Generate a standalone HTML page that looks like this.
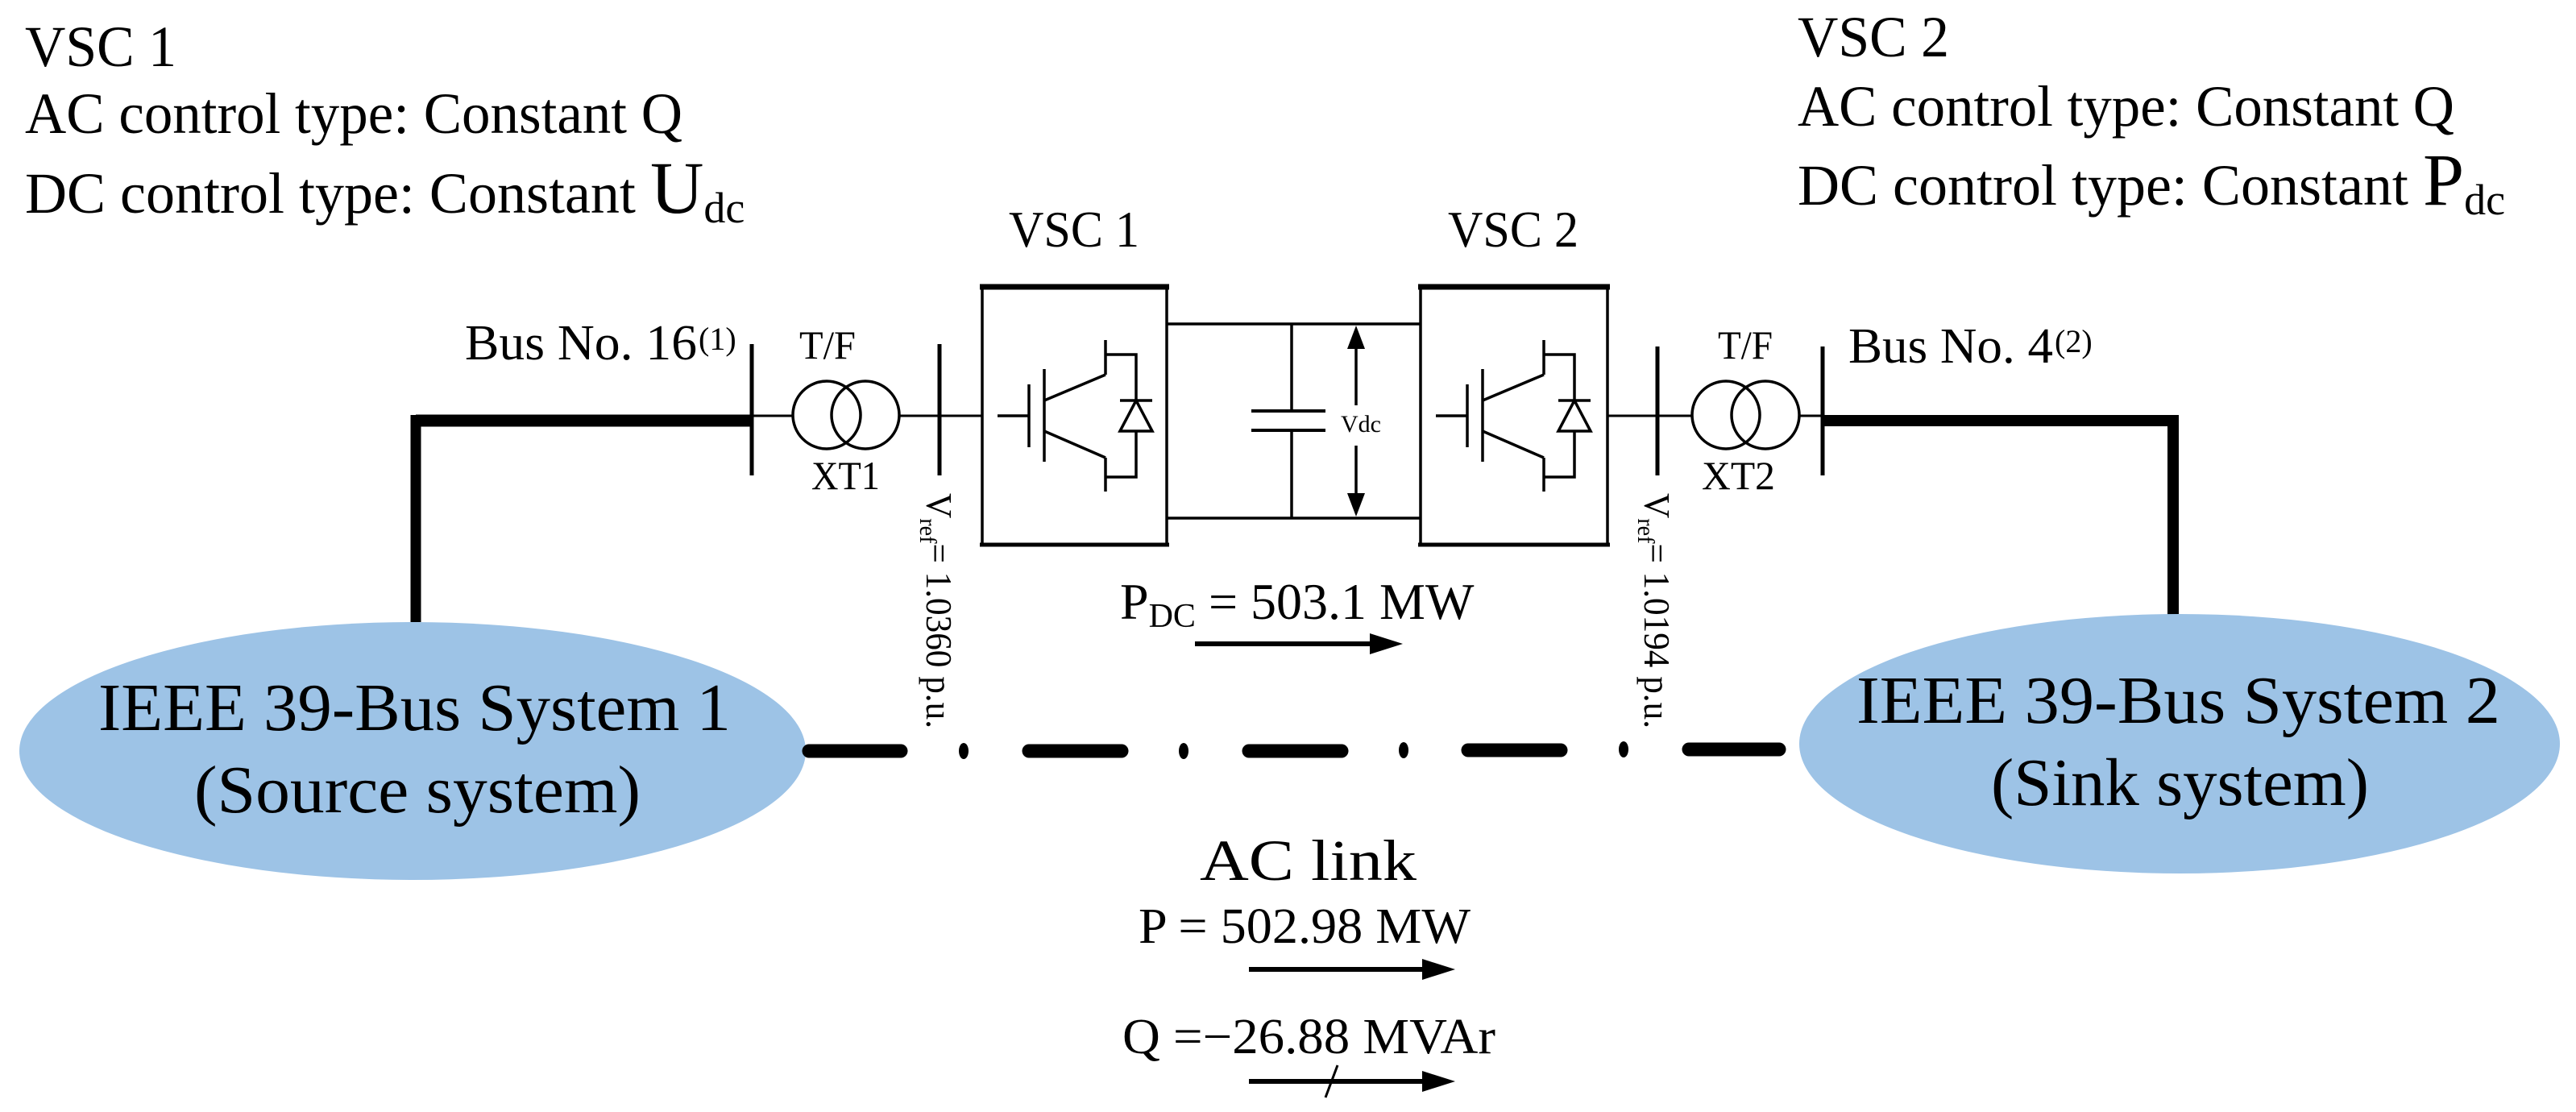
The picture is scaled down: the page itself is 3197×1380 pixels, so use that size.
<!DOCTYPE html>
<html><head><meta charset="utf-8"><style>
html,body{margin:0;padding:0;background:#fff;}
svg{display:block;}
text{font-family:"Liberation Serif","Times New Roman",serif;fill:#000;}
</style></head><body>
<svg width="3197" height="1380" viewBox="0 0 3197 1380" xmlns="http://www.w3.org/2000/svg" font-family="Liberation Serif, Times New Roman, serif">
<rect width="3197" height="1380" fill="#fff"/>
<!-- top-left text -->
<text x="31" y="82" font-size="72" textLength="188" lengthAdjust="spacingAndGlyphs">VSC 1</text>
<text x="31" y="165" font-size="72" textLength="816" lengthAdjust="spacingAndGlyphs">AC control type: Constant Q</text>
<text x="31" y="264" font-size="72">DC control type: Constant <tspan font-size="92">U</tspan><tspan font-size="54" dy="12">dc</tspan></text>
<!-- top-right text -->
<text x="2231" y="70" font-size="72" textLength="188" lengthAdjust="spacingAndGlyphs">VSC 2</text>
<text x="2231" y="156" font-size="72" textLength="815" lengthAdjust="spacingAndGlyphs">AC control type: Constant Q</text>
<text x="2231" y="254" font-size="72">DC control type: Constant <tspan font-size="92">P</tspan><tspan font-size="54" dy="12">dc</tspan></text>

<!-- VSC labels -->
<text x="1252" y="306" font-size="64" textLength="162" lengthAdjust="spacingAndGlyphs">VSC 1</text>
<text x="1797" y="306" font-size="64" textLength="162" lengthAdjust="spacingAndGlyphs">VSC 2</text>

<!-- Left AC side -->
<text x="577" y="446" font-size="62" textLength="288" lengthAdjust="spacingAndGlyphs">Bus No. 16</text>
<text x="867" y="434" font-size="40">(1)</text>
<text x="992" y="445" font-size="50" textLength="70" lengthAdjust="spacingAndGlyphs">T/F</text>
<text x="1007" y="607" font-size="50" textLength="85" lengthAdjust="spacingAndGlyphs">XT1</text>
<path d="M516 522 H933" stroke="#000" stroke-width="15" fill="none"/>
<path d="M516 515 V772" stroke="#000" stroke-width="13" fill="none"/>
<line x1="933" y1="427" x2="933" y2="590" stroke="#000" stroke-width="5"/>
<line x1="933" y1="516" x2="984" y2="516" stroke="#000" stroke-width="3"/>
<circle cx="1026" cy="515" r="42" fill="none" stroke="#000" stroke-width="3.5"/>
<circle cx="1074" cy="515" r="42" fill="none" stroke="#000" stroke-width="3.5"/>
<line x1="1116" y1="516" x2="1219" y2="516" stroke="#000" stroke-width="3"/>
<line x1="1166" y1="427" x2="1166" y2="590" stroke="#000" stroke-width="5"/>
<text transform="translate(1150,612) rotate(90)" font-size="46" textLength="292" lengthAdjust="spacingAndGlyphs">V<tspan font-size="30" dy="8">ref</tspan><tspan dy="-8">= 1.0360 p.u.</tspan></text>

<!-- Right AC side -->
<text x="2294" y="450" font-size="62" textLength="254" lengthAdjust="spacingAndGlyphs">Bus No. 4</text>
<text x="2550" y="437" font-size="40">(2)</text>
<text x="2132" y="445" font-size="50" textLength="68" lengthAdjust="spacingAndGlyphs">T/F</text>
<text x="2112" y="607" font-size="50" textLength="91" lengthAdjust="spacingAndGlyphs">XT2</text>
<line x1="1995" y1="516" x2="2100" y2="516" stroke="#000" stroke-width="3"/>
<line x1="2057" y1="430" x2="2057" y2="590" stroke="#000" stroke-width="5"/>
<circle cx="2142" cy="515" r="42" fill="none" stroke="#000" stroke-width="3.5"/>
<circle cx="2191" cy="515" r="42" fill="none" stroke="#000" stroke-width="3.5"/>
<line x1="2233" y1="516" x2="2262" y2="516" stroke="#000" stroke-width="3"/>
<line x1="2262" y1="430" x2="2262" y2="590" stroke="#000" stroke-width="5"/>
<path d="M2262 522 H2697 V763" stroke="#000" stroke-width="14" fill="none"/>
<text transform="translate(2041,612) rotate(90)" font-size="46" textLength="292" lengthAdjust="spacingAndGlyphs">V<tspan font-size="30" dy="8">ref</tspan><tspan dy="-8">= 1.0194 p.u.</tspan></text>

<!-- Converter boxes -->
<g stroke="#000" fill="none" stroke-width="3.5">
<rect x="1219" y="356" width="229" height="320"/>
<rect x="1763" y="356" width="232" height="320"/>
<line x1="1448" y1="402" x2="1763" y2="402"/>
<line x1="1448" y1="643" x2="1763" y2="643"/>
<line x1="1603" y1="402" x2="1603" y2="510"/>
<line x1="1603" y1="534" x2="1603" y2="643"/>
<line x1="1553" y1="510" x2="1645" y2="510" stroke-width="4"/>
<line x1="1553" y1="534" x2="1645" y2="534" stroke-width="4"/>
<line x1="1683" y1="425" x2="1683" y2="503"/>
<line x1="1683" y1="553" x2="1683" y2="620"/>
</g>
<line x1="1216" y1="356" x2="1451" y2="356" stroke="#000" stroke-width="7"/>
<line x1="1760" y1="356" x2="1998" y2="356" stroke="#000" stroke-width="7"/>
<line x1="1216" y1="676" x2="1451" y2="676" stroke="#000" stroke-width="5"/>
<line x1="1760" y1="676" x2="1998" y2="676" stroke="#000" stroke-width="5"/>
<polygon points="1683,404 1672,433 1694,433" fill="#000"/>
<polygon points="1683,641 1672,612 1694,612" fill="#000"/>
<text x="1664" y="536" font-size="30">Vdc</text>

<!-- IGBT symbol -->
<defs>
<g id="igbt" stroke="#000" stroke-width="3.5" fill="none">
<line x1="1238" y1="516" x2="1277" y2="516"/>
<line x1="1277" y1="477" x2="1277" y2="555"/>
<line x1="1296" y1="458" x2="1296" y2="573"/>
<line x1="1296" y1="497" x2="1372" y2="465"/>
<line x1="1296" y1="535" x2="1372" y2="568"/>
<line x1="1372" y1="422" x2="1372" y2="465"/>
<line x1="1372" y1="568" x2="1372" y2="610"/>
<polyline points="1372,440 1410,440 1410,592 1372,592"/>
<line x1="1390" y1="497" x2="1430" y2="497"/>
<polygon points="1410,497 1390,535 1430,535" fill="#fff"/>
</g>
</defs>
<use href="#igbt"/>
<use href="#igbt" transform="translate(544,0)"/>

<!-- PDC -->
<text x="1390" y="768" font-size="64">P<tspan font-size="42" dy="10">DC</tspan><tspan dy="-10"> = 503.1 MW</tspan></text>
<line x1="1483" y1="799" x2="1705" y2="799" stroke="#000" stroke-width="6"/>
<polygon points="1741,799 1700,786 1700,812" fill="#000"/>

<!-- Ellipses -->
<ellipse cx="512" cy="932" rx="488" ry="160" fill="#9dc3e6"/>
<ellipse cx="2705" cy="923" rx="472" ry="161" fill="#9dc3e6"/>
<text x="122" y="906" font-size="84" textLength="785" lengthAdjust="spacingAndGlyphs">IEEE 39-Bus System 1</text>
<text x="241" y="1008" font-size="84" textLength="554" lengthAdjust="spacingAndGlyphs">(Source system)</text>
<text x="2304" y="897" font-size="84" textLength="799" lengthAdjust="spacingAndGlyphs">IEEE 39-Bus System 2</text>
<text x="2471" y="999" font-size="84" textLength="469" lengthAdjust="spacingAndGlyphs">(Sink system)</text>

<!-- dash-dot AC link -->
<g stroke="#000" stroke-width="17" stroke-linecap="round">
<line x1="1004" y1="932" x2="1118" y2="932"/>
<line x1="1277" y1="932" x2="1392" y2="932"/>
<line x1="1550" y1="932" x2="1665" y2="932"/>
<line x1="1822" y1="931" x2="1937" y2="931"/>
<line x1="2096" y1="930" x2="2208" y2="930"/>
</g>
<g fill="#000">
<ellipse cx="1196" cy="932" rx="6" ry="10"/>
<ellipse cx="1469" cy="932" rx="6" ry="10"/>
<ellipse cx="1742" cy="931" rx="6" ry="10"/>
<ellipse cx="2015" cy="930" rx="6" ry="10"/>
</g>

<!-- AC link labels -->
<text x="1489" y="1092" font-size="72" textLength="269" lengthAdjust="spacingAndGlyphs">AC link</text>
<text x="1413" y="1170" font-size="62" textLength="412" lengthAdjust="spacingAndGlyphs">P = 502.98 MW</text>
<line x1="1550" y1="1203" x2="1770" y2="1203" stroke="#000" stroke-width="6"/>
<polygon points="1806,1203 1765,1190 1765,1216" fill="#000"/>
<text x="1393" y="1307" font-size="62" textLength="463" lengthAdjust="spacingAndGlyphs">Q =−26.88 MVAr</text>
<line x1="1550" y1="1342" x2="1770" y2="1342" stroke="#000" stroke-width="6"/>
<polygon points="1806,1342 1765,1329 1765,1355" fill="#000"/>
<line x1="1645" y1="1362" x2="1660" y2="1322" stroke="#000" stroke-width="3"/>
</svg>
</body></html>
